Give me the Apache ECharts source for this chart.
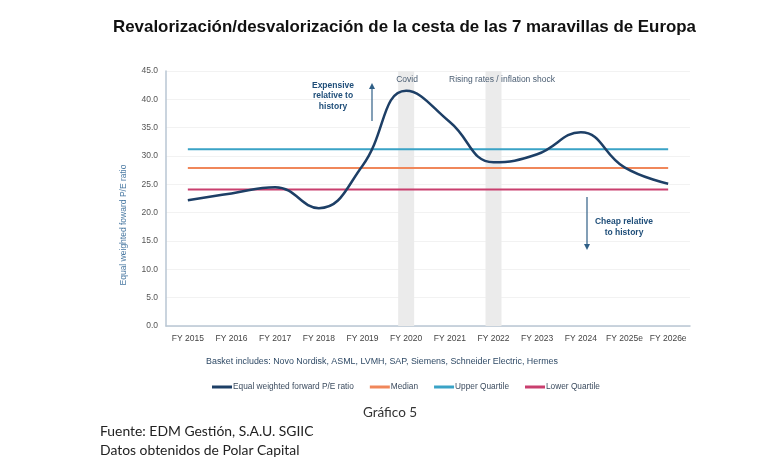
<!DOCTYPE html>
<html>
<head>
<meta charset="utf-8">
<script src="https://cdn.jsdelivr.net/npm/echarts@6/dist/echarts.min.js"></script>
<style>
  html, body { margin: 0; padding: 0; background: #fff; }
  #chart { width: 766px; height: 476px; }
</style>
</head>
<body>
<div id="chart"></div>
<script>
// datos
const categories = ['FY 2015', 'FY 2016', 'FY 2017', 'FY 2018', 'FY 2019', 'FY 2020',
    'FY 2021', 'FY 2022', 'FY 2023', 'FY 2024', 'FY 2025e', 'FY 2026e'];
const peRatio = [22.2, 23.4, 24.5, 20.8, 28.3, 41.5, 36.0, 28.9, 30.3, 34.2, 28.0, 25.1];
const median = [27.9, 27.9, 27.9, 27.9, 27.9, 27.9, 27.9, 27.9, 27.9, 27.9, 27.9, 27.9];
const upperQuartile = [31.2, 31.2, 31.2, 31.2, 31.2, 31.2, 31.2, 31.2, 31.2, 31.2, 31.2, 31.2];
const lowerQuartile = [24.1, 24.1, 24.1, 24.1, 24.1, 24.1, 24.1, 24.1, 24.1, 24.1, 24.1, 24.1];
// bandas grises (Covid y subida de tipos)
const shading = [null, null, null, null, null, 45, null, 45, null, null, null, null];

const font = 'Liberation Sans, Arial, sans-serif';

// texto suelto del gráfico
function label(x, y, text, extra) {
    return {
        type: 'text', x: x, y: y, z: 10,
        style: Object.assign({
            text: text, fill: '#4a5d72', fontSize: 8.5, fontFamily: font,
            align: 'center', verticalAlign: 'middle'
        }, extra || {})
    };
}

function initChart() {
    const chart = echarts.init(document.getElementById('chart'));
    const option = {
        animation: false,
        textStyle: { fontFamily: font },
        title: {
            text: 'Revalorización/desvalorización de la cesta de las 7 maravillas de Europa',
            left: 108,
            top: 14,
            textStyle: { fontSize: 16.9, fontWeight: 'bold', color: '#111', fontFamily: font }
        },
        grid: { left: 166, right: 76, top: 71, bottom: 150 },
        legend: {
            data: ['Equal weighted forward P/E ratio', 'Median', 'Upper Quartile', 'Lower Quartile'],
            top: 378,
            left: 207,
            icon: 'rect',
            itemWidth: 20,
            itemHeight: 3,
            itemGap: 16,
            textStyle: { fontSize: 8.3, color: '#3b4b5e', padding: [0, 0, 0, -4] }
        },
        xAxis: {
            type: 'category',
            data: categories,
            boundaryGap: true,
            axisLine: { lineStyle: { color: '#b9c6d3', width: 1.5 } },
            axisTick: { show: false },
            axisLabel: { color: '#444', fontSize: 8.5, margin: 8, interval: 0 }
        },
        yAxis: {
            type: 'value',
            min: 0,
            max: 45,
            interval: 5,
            axisLine: { show: true, lineStyle: { color: '#b9c6d3', width: 1.5 } },
            axisTick: { show: false },
            axisLabel: { color: '#555', fontSize: 8.5, margin: 8, formatter: v => v.toFixed(1) },
            splitLine: { lineStyle: { color: '#f2f2f2' } }
        },
        graphic: [
            Object.assign(label(124, 225, 'Equal weighted foward P/E ratio', { fill: '#4b7aa3' }), { rotation: Math.PI / 2 }),
            label(333, 96, 'Expensive\nrelative to\nhistory', { fill: '#1f4e79', fontWeight: 'bold', lineHeight: 10.5 }),
            label(407, 80, 'Covid'),
            label(502, 80, 'Rising rates / inflation shock'),
            label(624, 227, 'Cheap relative\nto history', { fill: '#1f4e79', fontWeight: 'bold', lineHeight: 10.5 }),
            {
                type: 'line', z: 10, shape: { x1: 372, y1: 121, x2: 372, y2: 88 },
                style: { stroke: '#2f5f86', lineWidth: 1.2 }
            },
            {
                type: 'polygon', z: 10, shape: { points: [[369, 89], [375, 89], [372, 83]] },
                style: { fill: '#2f5f86' }
            },
            {
                type: 'line', z: 10, shape: { x1: 587, y1: 197, x2: 587, y2: 245 },
                style: { stroke: '#2f5f86', lineWidth: 1.2 }
            },
            {
                type: 'polygon', z: 10, shape: { points: [[584, 244], [590, 244], [587, 250]] },
                style: { fill: '#2f5f86' }
            },
            label(382, 362, 'Basket includes: Novo Nordisk, ASML, LVMH, SAP, Siemens, Schneider Electric, Hermes', { fill: '#2f4a66', fontSize: 8.9 }),
            label(390, 413, 'Gráfico 5', { fill: '#333', fontSize: 13.5, fontFamily: 'Lato, sans-serif' }),
            label(100, 432, 'Fuente: EDM Gestión, S.A.U. SGIIC', { fill: '#222', fontSize: 13.9, fontFamily: 'Lato, sans-serif', align: 'left' }),
            label(100, 451, 'Datos obtenidos de Polar Capital', { fill: '#222', fontSize: 13.9, fontFamily: 'Lato, sans-serif', align: 'left' })
        ],
        series: [
            {
                name: 'Shading',
                type: 'bar',
                data: shading,
                barWidth: 16,
                silent: true,
                itemStyle: { color: '#ebebeb' },
                z: 1
            },
            {
                name: 'Upper Quartile',
                type: 'line',
                data: upperQuartile,
                showSymbol: false,
                lineStyle: { color: '#3aa3c6', width: 2 },
                itemStyle: { color: '#3aa3c6' },
                z: 3
            },
            {
                name: 'Median',
                type: 'line',
                data: median,
                showSymbol: false,
                lineStyle: { color: '#f0875a', width: 2 },
                itemStyle: { color: '#f0875a' },
                z: 3
            },
            {
                name: 'Lower Quartile',
                type: 'line',
                data: lowerQuartile,
                showSymbol: false,
                lineStyle: { color: '#c93f6e', width: 2 },
                itemStyle: { color: '#c93f6e' },
                z: 3
            },
            {
                name: 'Equal weighted forward P/E ratio',
                type: 'line',
                data: peRatio,
                smooth: 0.45,
                showSymbol: false,
                lineStyle: { color: '#1d3f66', width: 2.5 },
                itemStyle: { color: '#1d3f66' },
                z: 4
            }
        ]
    };
    chart.setOption(option);
    window.addEventListener('resize', () => chart.resize());
}

document.addEventListener('DOMContentLoaded', initChart);
</script>
</body>
</html>
